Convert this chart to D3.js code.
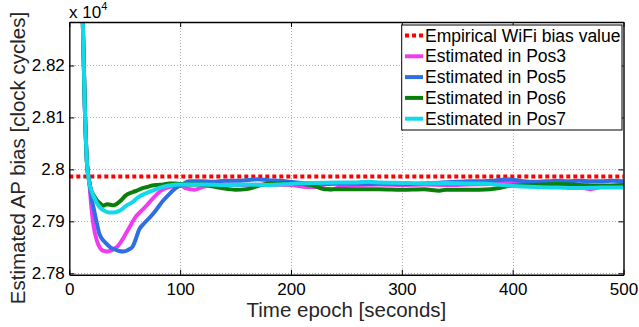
<!DOCTYPE html>
<html><head><meta charset="utf-8">
<script src="https://d3js.org/d3.v7.min.js"></script>
<style>
html,body{margin:0;padding:0;background:#fff;}
svg{display:block;font-family:"Liberation Sans",Arial,Helvetica,sans-serif;}
</style></head>
<body>
<svg id="chart" width="639" height="327"></svg>
<script>
// ---------- data (values in units of 10^4 clock cycles) ----------
const xTicks = [0, 100, 200, 300, 400, 500];
const yTicks = [2.78, 2.79, 2.80, 2.81, 2.82];
const yTickLabels = ["2.78", "2.79", "2.8", "2.81", "2.82"];
const empiricalBias = 2.79863;

const seriesNames = ["Estimated in Pos3", "Estimated in Pos5", "Estimated in Pos6", "Estimated in Pos7"];
const seriesColors = ["#f03cf0", "#2f6fe4", "#0a800a", "#12d8ea"];

const pos3T = [10,12,14,16,18,20,22,25,28,31,34,37,40,44,48,52,56,60,65,70,75,80,85,90,95,100,105,113,120,130,140,160,180,200,215,225,236,245,260,280,300,320,340,360,380,395,405,420,440,460,470,480,500];
const pos3V = [2.86,2.830,2.812,2.801,2.7975,2.7925,2.7890,2.7862,2.7848,2.7843,2.7842,2.7843,2.7847,2.7853,2.7865,2.7880,2.7895,2.7909,2.7920,2.7931,2.7943,2.7954,2.7962,2.7966,2.7968,2.7969,2.7964,2.7961,2.7966,2.7970,2.7971,2.7970,2.7971,2.7970,2.7966,2.7966,2.7961,2.7967,2.7970,2.7971,2.7970,2.7971,2.7970,2.7971,2.7972,2.7975,2.7972,2.7969,2.7968,2.7966,2.7962,2.7966,2.7967];

const pos5T = [10,12,14,16,18,20,22,25,27,29,33,37,41,45,49,53,57,60,63,67,72,78,84,90,96,102,108,115,120,130,140,150,160,170,180,190,200,210,220,230,250,270,290,310,330,350,360,370,380,390,395,400,410,420,430,440,450,460,470,480,490,500];
const pos5V = [2.86,2.830,2.812,2.801,2.7978,2.7945,2.7925,2.7895,2.7877,2.7868,2.7858,2.7850,2.7846,2.7843,2.7842,2.7845,2.7851,2.7866,2.7884,2.7895,2.7906,2.7921,2.7938,2.7952,2.7964,2.7971,2.7977,2.7977,2.7977,2.7976,2.7978,2.7978,2.7979,2.7981,2.7979,2.7978,2.7976,2.7974,2.7973,2.7972,2.7973,2.7972,2.7973,2.7972,2.7974,2.7976,2.7977,2.7977,2.7978,2.7980,2.7981,2.7980,2.7977,2.7976,2.7977,2.7978,2.7977,2.7978,2.7977,2.7977,2.7978,2.7977];

const pos6T = [10,12,14,16,18,20,22,25,28,31,34,37,40,43,47,51,57,62,66,70,75,80,85,90,95,100,110,120,130,140,150,160,170,180,190,200,210,220,230,240,260,280,300,320,334,340,360,380,390,400,420,440,460,480,500];
const pos6V = [2.86,2.830,2.812,2.801,2.7976,2.7958,2.7950,2.7940,2.7934,2.7930,2.7933,2.7932,2.7931,2.7934,2.7941,2.7950,2.7956,2.7960,2.7964,2.7966,2.7969,2.7970,2.7971,2.7973,2.7973,2.7972,2.7971,2.7971,2.7967,2.7963,2.7961,2.7962,2.7968,2.7973,2.7973,2.7973,2.7972,2.7969,2.7962,2.7962,2.7962,2.7962,2.7961,2.7962,2.7959,2.7961,2.7961,2.7962,2.7965,2.7969,2.7970,2.7972,2.7970,2.7969,2.7970];

const pos7T = [10,12,14,16,18,20,22,25,28,32,36,40,44,48,52,57,62,68,75,82,90,100,120,140,160,180,200,220,240,260,270,280,300,320,340,360,380,400,420,440,460,480,500];
const pos7V = [2.86,2.830,2.812,2.801,2.7975,2.7958,2.7948,2.7935,2.7926,2.7920,2.7917,2.7917,2.7919,2.7924,2.7931,2.7937,2.7946,2.7953,2.7959,2.7965,2.7969,2.7971,2.7971,2.7970,2.7971,2.7970,2.7972,2.7974,2.7975,2.7975,2.7976,2.7975,2.7974,2.7973,2.7974,2.7973,2.7972,2.7968,2.7966,2.7965,2.7964,2.7965,2.7965];

const seriesT = [pos3T, pos5T, pos6T, pos7T];
const seriesV = [pos3V, pos5V, pos6V, pos7V];

// ---------- layout ----------
const svg = d3.select("#chart");
const L = 69.3, R = 623.5, T = 22, B = 274.8;
const x = d3.scaleLinear().domain([0, 500]).range([L, R]);
const y = d3.scaleLinear().domain([2.77971, 2.82837]).range([B, T]);

svg.append("defs").append("clipPath").attr("id", "clip")
  .append("rect").attr("x", L).attr("y", T).attr("width", R - L).attr("height", B - T);

// grid
const grid = svg.append("g").attr("stroke", "#b0b0b0").attr("stroke-width", 1)
  .attr("stroke-dasharray", "1,2").attr("shape-rendering", "crispEdges");
xTicks.filter(d => d > 0 && d < 500).forEach(d => {
  grid.append("line").attr("x1", Math.round(x(d)) + 0.5).attr("x2", Math.round(x(d)) + 0.5).attr("y1", T).attr("y2", B);
});
yTicks.forEach(d => {
  grid.append("line").attr("x1", L).attr("x2", R).attr("y1", Math.round(y(d)) + 0.5).attr("y2", Math.round(y(d)) + 0.5);
});

// data lines
const plot = svg.append("g").attr("clip-path", "url(#clip)");
plot.append("line").attr("x1", x(0)).attr("x2", x(500))
  .attr("y1", y(empiricalBias)).attr("y2", y(empiricalBias))
  .attr("stroke", "#ff0000").attr("stroke-width", 4).attr("stroke-dasharray", "4,3");

const lineGen = d3.line().x(d => x(d[0])).y(d => y(d[1])).curve(d3.curveMonotoneX);
seriesT.forEach((ts, i) => {
  const pts = ts.map((t, j) => [t, seriesV[i][j]]);
  plot.append("path").datum(pts).attr("d", lineGen)
    .attr("fill", "none").attr("stroke", seriesColors[i]).attr("stroke-width", 4)
    .attr("stroke-linejoin", "round").attr("stroke-linecap", "round");
});

// axes (MATLAB style: box with inward ticks on all sides)
const xAxisB = d3.axisBottom(x).tickValues(xTicks).tickSizeInner(-5).tickSizeOuter(0).tickFormat(d3.format("d")).tickPadding(8.5);
const gxb = svg.append("g").attr("transform", `translate(0,${B})`).call(xAxisB);
const xAxisT = d3.axisTop(x).tickValues(xTicks).tickSizeInner(-5).tickSizeOuter(0).tickFormat("");
const gxt = svg.append("g").attr("transform", `translate(0,${T})`).call(xAxisT);
const yAxisL = d3.axisLeft(y).tickValues(yTicks).tickSizeInner(-5).tickSizeOuter(0)
  .tickFormat((d, i) => yTickLabels[i]).tickPadding(4.5);
const gyl = svg.append("g").attr("transform", `translate(${L},0)`).call(yAxisL);
const yAxisR = d3.axisRight(y).tickValues(yTicks).tickSizeInner(-5).tickSizeOuter(0).tickFormat("");
const gyr = svg.append("g").attr("transform", `translate(${R},0)`).call(yAxisR);

[gxb, gxt, gyl, gyr].forEach(g => {
  g.select(".domain").attr("stroke", "#000").attr("stroke-width", 1.4);
  g.selectAll(".tick line").attr("stroke", "#000").attr("stroke-width", 1);
  g.selectAll("text").attr("fill", "#000").style("font-size", "17px")
    .style("font-family", "'Liberation Sans',Arial,Helvetica,sans-serif");
});
gxb.selectAll("text").attr("dy", "0.71em");

// exponent label
const expo = svg.append("text").attr("x", 69).attr("y", 18).attr("fill", "#000")
  .style("font-size", "17px");
expo.append("tspan").text("x 10");
expo.append("tspan").attr("dy", -8).style("font-size", "11px").text("4");

// axis titles
svg.append("text").attr("x", (L + R) / 2).attr("y", 317).attr("text-anchor", "middle")
  .attr("fill", "#262626").style("font-size", "20.5px").text("Time epoch [seconds]");
svg.append("text").attr("transform", "translate(24.5,158) rotate(-90)").attr("text-anchor", "middle")
  .attr("fill", "#262626").style("font-size", "20.5px").text("Estimated AP bias [clock cycles]");

// legend
const legX = 401.7, legY = 25, legW = 220.3, legH = 105;
const leg = svg.append("g");
leg.append("rect").attr("x", legX).attr("y", legY).attr("width", legW).attr("height", legH)
  .attr("fill", "#fff").attr("stroke", "#000").attr("stroke-width", 1);
const legNames = ["Empirical WiFi bias value"].concat(seriesNames);
const legColors = ["#ff0000"].concat(seriesColors);
legNames.forEach((name, i) => {
  const cy = 35.5 + i * 20.8;
  const ln = leg.append("line").attr("x1", 405).attr("x2", 423).attr("y1", cy).attr("y2", cy)
    .attr("stroke", legColors[i]).attr("stroke-width", 4);
  if (i === 0) ln.attr("stroke-dasharray", "4,3");
  leg.append("text").attr("x", 425).attr("y", cy).attr("dy", "0.35em").attr("fill", "#000")
    .style("font-size", "17.5px").text(name);
});
</script>
</body></html>
